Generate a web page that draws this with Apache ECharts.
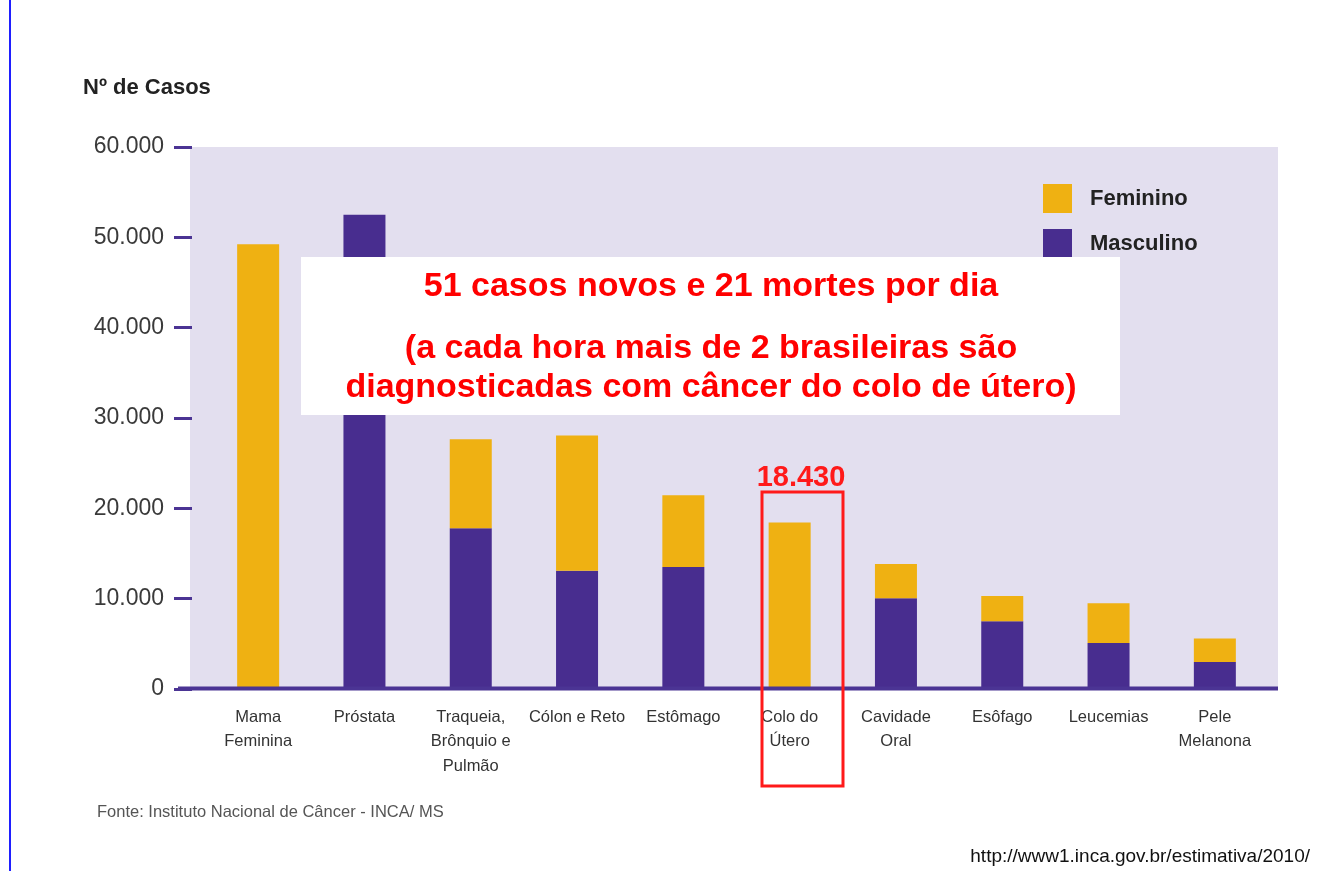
<!DOCTYPE html>
<html>
<head>
<meta charset="utf-8">
<title>Nº de Casos - INCA 2010</title>
<script src="https://cdn.jsdelivr.net/npm/echarts@6/dist/echarts.min.js"></script>
<style>
  html, body { margin: 0; padding: 0; background: #fff; }
  #grafico { width: 1327px; height: 871px; }
</style>
</head>
<body>
<div id="grafico"></div>
<script>
// dados
const categorias = ['Mama\nFeminina', 'Próstata', 'Traqueia,\nBrônquio e\nPulmão', 'Cólon e Reto', 'Estômago',
  'Colo do\nÚtero', 'Cavidade\nOral', 'Esôfago', 'Leucemias', 'Pele\nMelanona']
const masculino = [0, 52500, 17800, 13100, 13500, 0, 10050, 7500, 5100, 3000]
const feminino = [49240, 0, 9850, 14950, 7950, 18430, 3800, 2800, 4400, 2600]
const ticksY = [0, 10000, 20000, 30000, 40000, 50000, 60000]

const FONTE = '"Liberation Sans", Arial, sans-serif'
const ROXO = '#482d8f'
const AMARELO = '#efb112'

function milhar(v) {
  return String(v).replace(/\B(?=(\d{3})+(?!\d))/g, '.')
}

const myChart = echarts.init(document.getElementById('grafico'))

myChart.setOption({
  backgroundColor: '#fff',
  animation: false,
  grid: { left: 205, right: 59, top: 147, bottom: 182 },
  legend: {
    left: 1043,
    top: 184,
    orient: 'vertical',
    icon: 'rect',
    itemWidth: 29,
    itemHeight: 29,
    itemGap: 16,
    padding: 0,
    data: ['Feminino', 'Masculino'],
    textStyle: { fontFamily: FONTE, fontWeight: 'bold', fontSize: 22, color: '#222', padding: [0, 0, 0, 13] }
  },
  xAxis: {
    type: 'category',
    data: categorias,
    axisLine: { show: false },
    axisTick: { show: false },
    axisLabel: {
      interval: 0,
      margin: 16,
      fontFamily: FONTE,
      fontSize: 16.5,
      lineHeight: 24.5,
      color: '#333',
      align: 'center'
    }
  },
  yAxis: {
    type: 'value',
    min: ticksY[0],
    max: ticksY[ticksY.length - 1],
    interval: 10000,
    offset: 13,
    axisLine: { show: false },
    axisTick: { show: true, length: 18, lineStyle: { color: '#4b3494', width: 3 } },
    splitLine: { show: false },
    axisLabel: {
      margin: 28,
      fontFamily: FONTE,
      fontSize: 23,
      color: '#3a3a3a',
      formatter: (v) => milhar(v)
    }
  },
  series: [
    {
      name: 'Masculino',
      type: 'bar',
      stack: 'casos',
      barWidth: 42,
      itemStyle: { color: ROXO },
      data: masculino
    },
    {
      name: 'Feminino',
      type: 'bar',
      stack: 'casos',
      barWidth: 42,
      itemStyle: { color: AMARELO },
      data: feminino
    }
  ],
  graphic: [
    // linha azul na borda esquerda
    { type: 'line', z: 50, shape: { x1: 10, y1: 0, x2: 10, y2: 871 }, style: { stroke: '#1f1fff', lineWidth: 2 } },
    // fundo lilas da area do grafico
    { type: 'rect', z: -1, shape: { x: 190, y: 147, width: 1088, height: 542 }, style: { fill: '#e3dfef' } },
    // eixo x
    { type: 'line', z: 10, shape: { x1: 178, y1: 688.5, x2: 1278, y2: 688.5 }, style: { stroke: '#4b3494', lineWidth: 4 } },
    {
      type: 'text', x: 83, y: 88,
      style: { text: 'Nº de Casos', font: 'bold 22px ' + FONTE, fill: '#222', verticalAlign: 'middle' }
    },
    // caixa branca com o texto em vermelho
    { type: 'rect', z: 100, shape: { x: 301, y: 257, width: 819, height: 158 }, style: { fill: '#fff' } },
    {
      type: 'text', z: 101, x: 711, y: 287,
      style: { text: '51 casos novos e 21 mortes por dia', font: 'bold 34px ' + FONTE, fill: '#ff0000', align: 'center', verticalAlign: 'middle' }
    },
    {
      type: 'text', z: 101, x: 711, y: 349,
      style: { text: '(a cada hora mais de 2 brasileiras são', font: 'bold 34px ' + FONTE, fill: '#ff0000', align: 'center', verticalAlign: 'middle' }
    },
    {
      type: 'text', z: 101, x: 711, y: 388,
      style: { text: 'diagnosticadas com câncer do colo de útero)', font: 'bold 34px ' + FONTE, fill: '#ff0000', align: 'center', verticalAlign: 'middle' }
    },
    // destaque do colo do utero
    { type: 'rect', z: 100, shape: { x: 762, y: 492, width: 81, height: 294 }, style: { fill: 'none', stroke: '#ff1a1a', lineWidth: 3 } },
    {
      type: 'text', z: 101, x: 801, y: 478,
      style: { text: milhar(feminino[5]), font: 'bold 29px ' + FONTE, fill: '#ff1a1a', align: 'center', verticalAlign: 'middle' }
    },
    {
      type: 'text', x: 97, y: 812,
      style: { text: 'Fonte: Instituto Nacional de Câncer - INCA/ MS', font: '16.5px ' + FONTE, fill: '#555', verticalAlign: 'middle' }
    },
    {
      type: 'text', x: 1310, y: 857,
      style: { text: 'http://www1.inca.gov.br/estimativa/2010/', font: '19px ' + FONTE, fill: '#111', align: 'right', verticalAlign: 'middle' }
    }
  ]
})

window.addEventListener('resize', () => myChart.resize())
</script>
</body>
</html>
